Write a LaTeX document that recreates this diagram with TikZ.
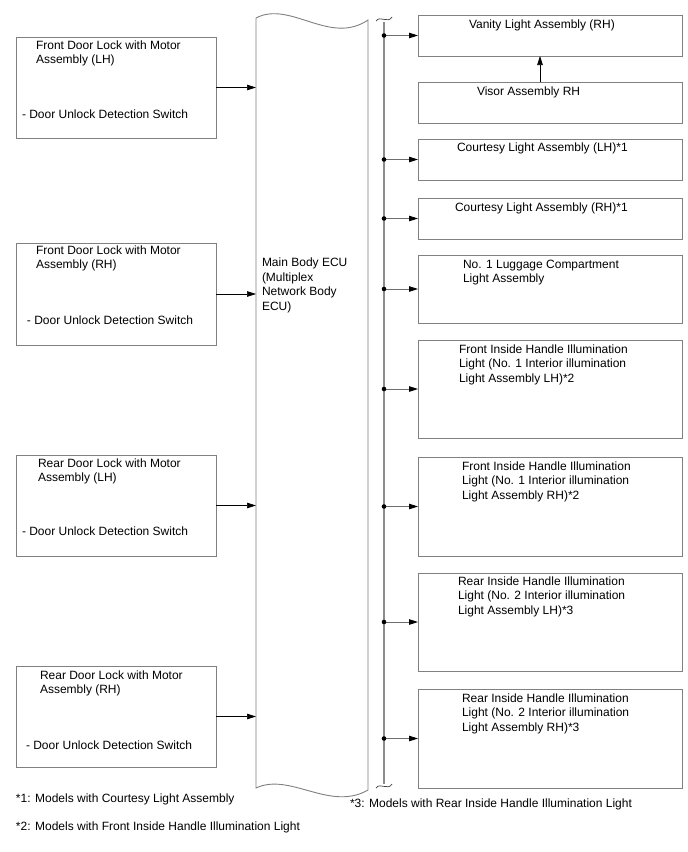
\documentclass[tikz,border=0pt]{standalone}
\usepackage{fontspec}
\setmainfont{Liberation Sans}
\usetikzlibrary{arrows.meta}
\definecolor{boxgray}{HTML}{808080}
\definecolor{linegray}{HTML}{8C8C8C}
\definecolor{branchgray}{HTML}{6E6E6E}
\newcommand{\fst}{\rule{0pt}{9pt}}
\begin{document}
\begin{tikzpicture}[x=1pt,y=-1pt,
  box/.style={draw=boxgray, line width=0.9pt, inner sep=0pt, outer sep=0pt, anchor=north west, fill=white},
  lbox/.style={box, minimum width=200pt},
  rbox/.style={box, minimum width=264pt},
  txt/.style={anchor=north west, inner sep=0pt, outer sep=0pt, align=left, font=\fontsize{12}{14.5}\selectfont},
  arr/.style={draw=black, line width=0.7pt, -{Triangle[length=9pt,width=5.5pt]}},
  branch/.style={draw=branchgray, line width=0.9pt, -{Triangle[length=9pt,width=5.5pt,color=black]}},
  busline/.style={draw=linegray, line width=1.3pt},
  wave/.style={draw=black!75, line width=0.7pt},
  dot/.style={fill=black}
]
\useasboundingbox[fill=white] (0,0) rectangle (688,852);

% ---------- left boxes ----------
\node[lbox, minimum height=101pt] (L1) at (16,37) {};
\node[lbox, minimum height=102pt] (L2) at (16,243) {};
\node[lbox, minimum height=101pt] (L3) at (16,455) {};
\node[lbox, minimum height=101pt] (L4) at (16,666) {};

\node[txt] (L1t) at (36,40.3) {\fst Front Door Lock with Motor\\Assembly (LH)};
\node[txt] (L1s) at (22,109.3) {\fst - Door Unlock Detection Switch};
\node[txt] (L2t) at (36,245.3) {\fst Front Door Lock with Motor\\Assembly (RH)};
\node[txt] (L2s) at (27,315.3) {\fst - Door Unlock Detection Switch};
\node[txt] (L3t) at (38,458.3) {\fst Rear Door Lock with Motor\\Assembly (LH)};
\node[txt] (L3s) at (22,526.3) {\fst - Door Unlock Detection Switch};
\node[txt] (L4t) at (40,670.3) {\fst Rear Door Lock with Motor\\Assembly (RH)};
\node[txt] (L4s) at (26,740.3) {\fst - Door Unlock Detection Switch};

% ---------- ECU ----------
\node[inner sep=0pt, outer sep=0pt, minimum width=112pt, minimum height=772pt, anchor=north west] (ecu) at (256,18) {};
\draw[draw=boxgray, line width=0.9pt]
  (256,18) .. controls (290,0) and (330,46) .. (368,20)
  -- (368,790) .. controls (330,812) and (290,772) .. (256,788) -- cycle;
\node[txt] (ecut) at (262,257.8) {\fst Main Body ECU\\(Multiplex\\Network Body\\ECU)};

\foreach \b in {L1,L2,L3,L4}
  \draw[arr] (\b.east) -- (\b.east -| ecu.west);

% ---------- bus ----------
\coordinate (bustop) at (384,22);
\coordinate (busbot) at (384,784);
\draw[busline] (bustop) -- (busbot);
\draw[wave] (376,21) .. controls (380,15) and (388,24) .. (392,17);
\draw[wave] (376,788) .. controls (380,782) and (388,791) .. (392,784);

% ---------- right boxes ----------
\node[rbox, minimum height=41pt] (R0) at (418,15) {};
\node[rbox, minimum height=41pt] (V) at (418,82) {};
\node[rbox, minimum height=41pt] (R1) at (418,139) {};
\node[rbox, minimum height=41pt] (R2) at (418,198) {};
\node[rbox, minimum height=68pt] (R3) at (418,255) {};
\node[rbox, minimum height=98pt] (R4) at (418,340) {};
\node[rbox, minimum height=99pt] (R5) at (418,457) {};
\node[rbox, minimum height=98pt] (R6) at (418,573) {};
\node[rbox, minimum height=99pt] (R7) at (418,689) {};

\node[txt] (R0t) at (469,19.3) {\fst Vanity Light Assembly (RH)};
\node[txt] (Vt) at (477,86.3) {\fst Visor Assembly RH};
\node[txt] (R1t) at (457,142.3) {\fst Courtesy Light Assembly (LH)*1};
\node[txt] (R2t) at (455,202.3) {\fst Courtesy Light Assembly (RH)*1};
\node[txt] (R3t) at (463,259.3) {\fst No. 1 Luggage Compartment\\Light Assembly};
\node[txt] (R4t) at (459,344.3) {\fst Front Inside Handle Illumination\\Light (No. 1 Interior illumination\\Light Assembly LH)*2};
\node[txt] (R5t) at (462,461.3) {\fst Front Inside Handle Illumination\\Light (No. 1 Interior illumination\\Light Assembly RH)*2};
\node[txt] (R6t) at (458,576.3) {\fst Rear Inside Handle Illumination\\Light (No. 2 Interior illumination\\Light Assembly LH)*3};
\node[txt] (R7t) at (462,693.3) {\fst Rear Inside Handle Illumination\\Light (No. 2 Interior illumination\\Light Assembly RH)*3};

\draw[arr] ([xshift=-10pt]V.north) -- ([xshift=-10pt]R0.south);

\foreach \b in {R0,R1,R2,R3,R4,R5,R6,R7}{
  \draw[branch] (\b.west -| bustop) -- (\b.west);
  \fill[dot] (\b.west -| bustop) circle (2.3pt);
}

% ---------- footnotes ----------
\node[txt] (f1) at (16,793.3) {\fst *1: Models with Courtesy Light Assembly};
\node[txt] (f3) at (350,798.3) {\fst *3: Models with Rear Inside Handle Illumination Light};
\node[txt] (f2) at (16,821.3) {\fst *2: Models with Front Inside Handle Illumination Light};
\end{tikzpicture}
\end{document}
